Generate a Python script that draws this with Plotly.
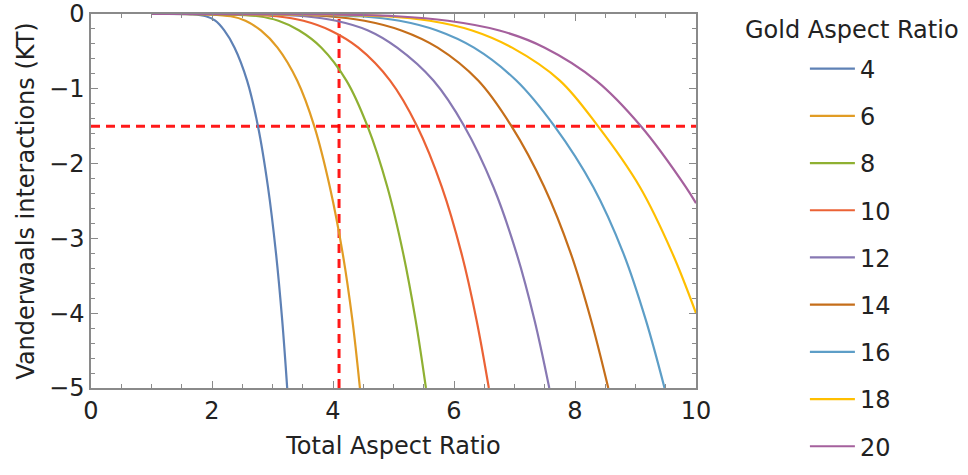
import plotly.graph_objects as go

# ---- data ----
gold_ratios = [4, 6, 8, 10, 12, 14, 16, 18, 20]

# interaction levels (KT) at which the curves were read
vdw_levels = [0.0, -0.005, -0.03, -0.09, -0.22, -0.45, -0.89, -1.5, -2.31, -3.2, -4.09, -5.0]

total_ar_4 = [1.0, 1.65, 1.9, 2.054, 2.203, 2.373, 2.58, 2.76, 2.925, 3.058, 3.16, 3.243]
vdw_4 = vdw_levels

total_ar_6 = [1.0, 1.9, 2.31, 2.553, 2.808, 3.083, 3.408, 3.69, 3.947, 4.16, 4.32, 4.445]
vdw_6 = vdw_levels

total_ar_8 = [1.0, 2.2, 2.765, 3.098, 3.442, 3.809, 4.222, 4.57, 4.897, 5.16, 5.365, 5.536]
vdw_8 = vdw_levels

total_ar_10 = [1.0, 2.4, 3.07, 3.511, 3.958, 4.419, 4.944, 5.39, 5.798, 6.124, 6.372, 6.576]
vdw_10 = vdw_levels

total_ar_12 = [1.0, 2.7, 3.53, 4.05, 4.58, 5.06, 5.66, 6.17, 6.65, 7.034, 7.33, 7.575]
vdw_12 = vdw_levels

total_ar_14 = [1.0, 3.0, 3.91, 4.52, 5.13, 5.73, 6.40, 6.95, 7.49, 7.93, 8.265, 8.55]
vdw_14 = vdw_levels

total_ar_16 = [1.0, 3.3, 4.45, 5.1, 5.72, 6.33, 7.03, 7.66, 8.30, 8.80, 9.17, 9.48]
vdw_16 = vdw_levels

total_ar_18 = [1.0, 3.5, 4.87, 5.6, 6.3, 6.96, 7.75, 8.38, 9.07, 9.61, 10.0]
vdw_18 = [0.0, -0.005, -0.03, -0.09, -0.22, -0.45, -0.89, -1.5, -2.31, -3.2, -4.0]

total_ar_20 = [1.0, 3.7, 5.05, 5.9, 6.75, 7.5, 8.35, 9.09, 9.83, 10.0]
vdw_20 = [0.0, -0.005, -0.03, -0.09, -0.22, -0.45, -0.89, -1.5, -2.31, -2.53]

threshold_total_ar = 4.1
threshold_vdw = -1.5

x_ticks = [0, 2, 4, 6, 8, 10]
y_ticks = [0, -1, -2, -3, -4, -5]

series_x = [total_ar_4, total_ar_6, total_ar_8, total_ar_10, total_ar_12,
            total_ar_14, total_ar_16, total_ar_18, total_ar_20]
series_y = [vdw_4, vdw_6, vdw_8, vdw_10, vdw_12, vdw_14, vdw_16, vdw_18, vdw_20]

colors = ["#5E81B5", "#E19C24", "#8FB032", "#EB6235", "#8778B3",
          "#C56E1A", "#5D9EC7", "#FFBF00", "#A5609D"]

FONT = "DejaVu Sans"
TXT = "#222222"
FRAME = "#8a8a8a"

fig = go.Figure()
for g, xs, ys, c in zip(gold_ratios, series_x, series_y, colors):
    fig.add_trace(go.Scatter(
        x=xs, y=ys, mode="lines",
        line=dict(color=c, width=2.2, shape="spline", smoothing=1.0),
        name=str(g), legendgroup=str(g),
    ))

fig.add_vline(x=threshold_total_ar, line=dict(color="rgba(255,0,0,0.9)", width=3, dash="9px,6px"), layer="below")
fig.add_hline(y=threshold_vdw, line=dict(color="rgba(255,0,0,0.9)", width=3, dash="9px,6px"), layer="below")

axis_common = dict(
    showline=True, linecolor=FRAME, linewidth=1.5, mirror="ticks",
    ticks="inside", ticklen=7, tickwidth=1.3, tickcolor=FRAME,
    showgrid=False, zeroline=False, automargin=False,
    tickfont=dict(family=FONT, size=24, color=TXT),
)

fig.update_xaxes(
    range=[0, 10], tickvals=x_ticks, **axis_common,
    minor=dict(dtick=0.5, ticks="inside", ticklen=4, tickwidth=1.2, tickcolor=FRAME, showgrid=False),
    title=dict(text="Total Aspect Ratio", font=dict(family=FONT, size=24, color=TXT), standoff=14),
)
fig.update_yaxes(
    range=[-5, 0], tickvals=y_ticks, **axis_common,
    minor=dict(dtick=0.2, ticks="inside", ticklen=4, tickwidth=1.2, tickcolor=FRAME, showgrid=False),
    title=dict(text="Vanderwaals interactions (KT)", font=dict(family=FONT, size=24, color=TXT), standoff=8),
)

fig.update_layout(
    width=968, height=475,
    margin=dict(l=91, r=272, t=14, b=87, autoexpand=False),
    plot_bgcolor="white", paper_bgcolor="white",
    font=dict(family=FONT, size=24, color=TXT),
    showlegend=True,
    legend=dict(x=1.18, xanchor="left", y=0.913, yanchor="top",
                tracegroupgap=13, itemwidth=45, maxheight=470,
                font=dict(family=FONT, size=24, color=TXT),
                bgcolor="rgba(0,0,0,0)", borderwidth=0),
    annotations=[dict(text="Gold Aspect Ratio", xref="paper", yref="paper",
                      x=(852 - 91) / 605, y=(388 - 30) / 374, showarrow=False,
                      xanchor="center", yanchor="middle",
                      font=dict(family=FONT, size=24, color=TXT))],
)

fig.write_html("out.html")
